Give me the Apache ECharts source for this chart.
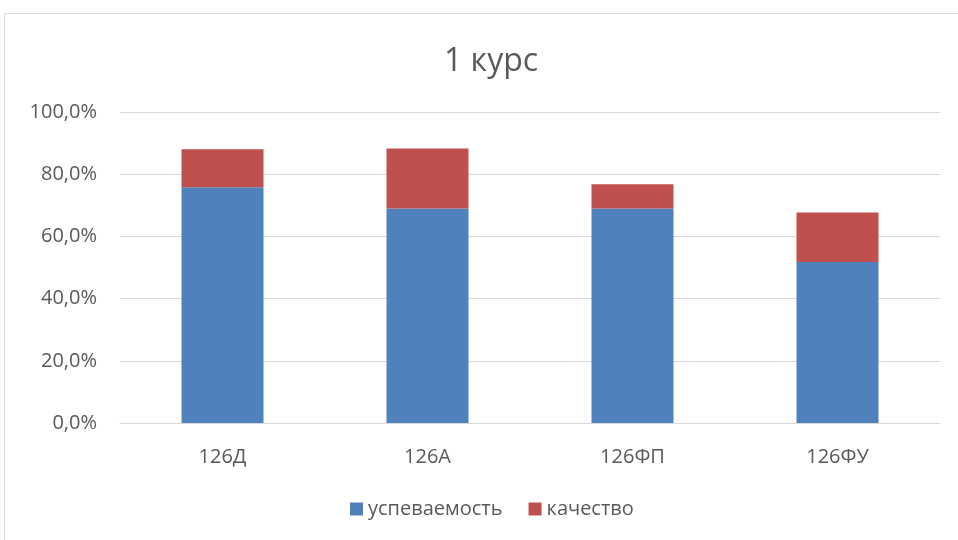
<!DOCTYPE html>
<html><head><meta charset="utf-8">
<script src="https://cdn.jsdelivr.net/npm/echarts@6/dist/echarts.min.js"></script>
<style>html,body{margin:0;padding:0;background:#fff}#c{width:958px;height:540px}</style>
</head><body><div id="c"></div>
<script>
const categories = ['126Д', '126А', '126ФП', '126ФУ'];
const uspevaemost = [75.8, 69.0, 69.0, 51.8];
const kachestvo = [12.2, 19.3, 7.8, 15.9];
const yTicks = [0, 20, 40, 60, 80, 100];

const FONT = "'Open Sans', 'Noto Sans', sans-serif";
const TXT = '#595959';
const chart = echarts.init(document.getElementById('c'), null, {renderer: 'canvas'});
chart.setOption({
  animation: false,
  backgroundColor: '#fff',
  graphic: [{
    type: 'rect', silent: true, z: -10,
    shape: {x: 4.5, y: 13.5, width: 1000, height: 600},
    style: {fill: 'none', stroke: '#d9d9d9', lineWidth: 1}
  }],
  title: {
    text: '1 курс', left: 439, top: 41,
    textStyle: {fontFamily: FONT, fontSize: 32, fontWeight: 'normal', color: TXT}
  },
  legend: {
    bottom: 16, left: 345, itemWidth: 13, itemHeight: 13, itemGap: 26,
    icon: 'rect',
    textStyle: {fontFamily: FONT, fontSize: 20, color: TXT},
    data: ['успеваемость', 'качество']
  },
  grid: {left: 120, right: 18, top: 112, bottom: 117},
  xAxis: {
    type: 'category', data: categories,
    axisLine: {lineStyle: {color: '#d9d9d9', width: 1}},
    axisTick: {show: false},
    axisLabel: {fontFamily: FONT, fontSize: 20, color: TXT, margin: 24}
  },
  yAxis: {
    type: 'value', min: yTicks[0], max: yTicks[yTicks.length - 1], interval: 20,
    axisLine: {show: false}, axisTick: {show: false},
    splitLine: {lineStyle: {color: '#d9d9d9', width: 1}},
    axisLabel: {
      fontFamily: FONT, fontSize: 20, color: TXT, margin: 23,
      formatter: v => v.toFixed(1).replace('.', ',') + '%'
    }
  },
  series: [
    {name: 'успеваемость', type: 'bar', stack: 's', data: uspevaemost, barWidth: '40%',
     itemStyle: {color: '#4F81BD'}},
    {name: 'качество', type: 'bar', stack: 's', data: kachestvo, barWidth: '40%',
     itemStyle: {color: '#C0504D'}}
  ]
});
</script></body></html>
